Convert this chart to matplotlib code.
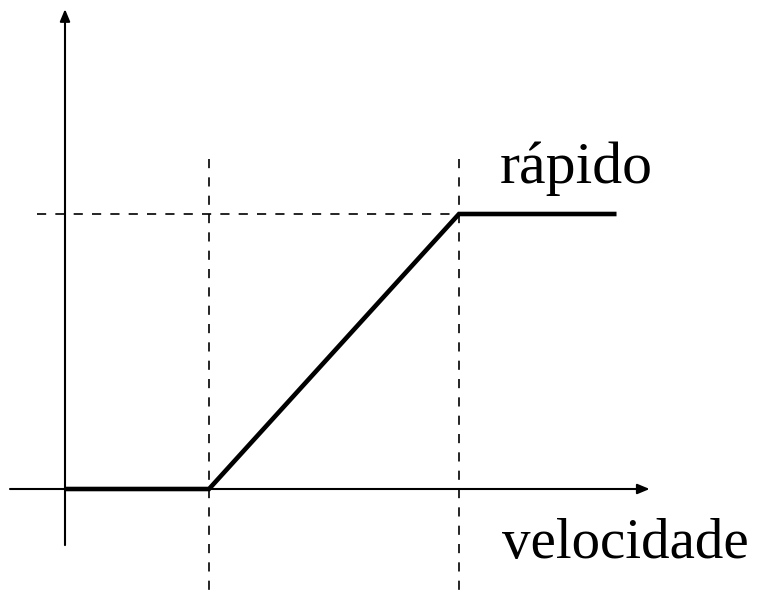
import matplotlib
matplotlib.use("Agg")
import matplotlib.pyplot as plt

# Membership function "rápido" over "velocidade"
speed = [0.0, 1.0, 2.736, 3.83]
membership = [0.0, 0.0, 1.0, 1.0]
breakpoints = [1.0, 2.736]
label_set = "rápido"
label_axis = "velocidade"

fig = plt.figure(figsize=(7.65, 5.95), dpi=100)
ax = fig.add_axes([0, 0, 1, 1])
ax.set_xlim(-65 / 144, 700 / 144)
ax.set_ylim(-106 / 275, 489 / 275)
ax.axis("off")

# axes with arrows
ax.annotate("", xy=(0, 1.745), xytext=(0, -0.204),
            arrowprops=dict(arrowstyle="-|>,head_length=0.6,head_width=0.25",
                            mutation_scale=12, lw=1.5, color="black",
                            shrinkA=0, shrinkB=0))
ax.annotate("", xy=(4.06, 0), xytext=(-0.382, 0),
            arrowprops=dict(arrowstyle="-|>,head_length=0.6,head_width=0.25",
                            mutation_scale=12, lw=1.5, color="black",
                            shrinkA=0, shrinkB=0))

# dashed guide lines
for b in breakpoints:
    ax.plot([b, b], [1.2, -0.39], ls=(0, (5.5, 5.5)), lw=1.2, color="black")
ax.plot([-0.194, breakpoints[1]], [1, 1], ls=(0, (5.5, 5.5)), lw=1.2, color="black")

# membership function
ax.plot(speed, membership, color="black", lw=3.3, solid_capstyle="butt",
        solid_joinstyle="miter")

ax.text(3.02, 1.113, label_set, fontsize=43, family="Liberation Serif",
        va="baseline", ha="left")
ax.text(3.035, -0.251, label_axis, fontsize=41, family="Liberation Serif",
        va="baseline", ha="left")

fig.savefig("out.png", dpi=100)
